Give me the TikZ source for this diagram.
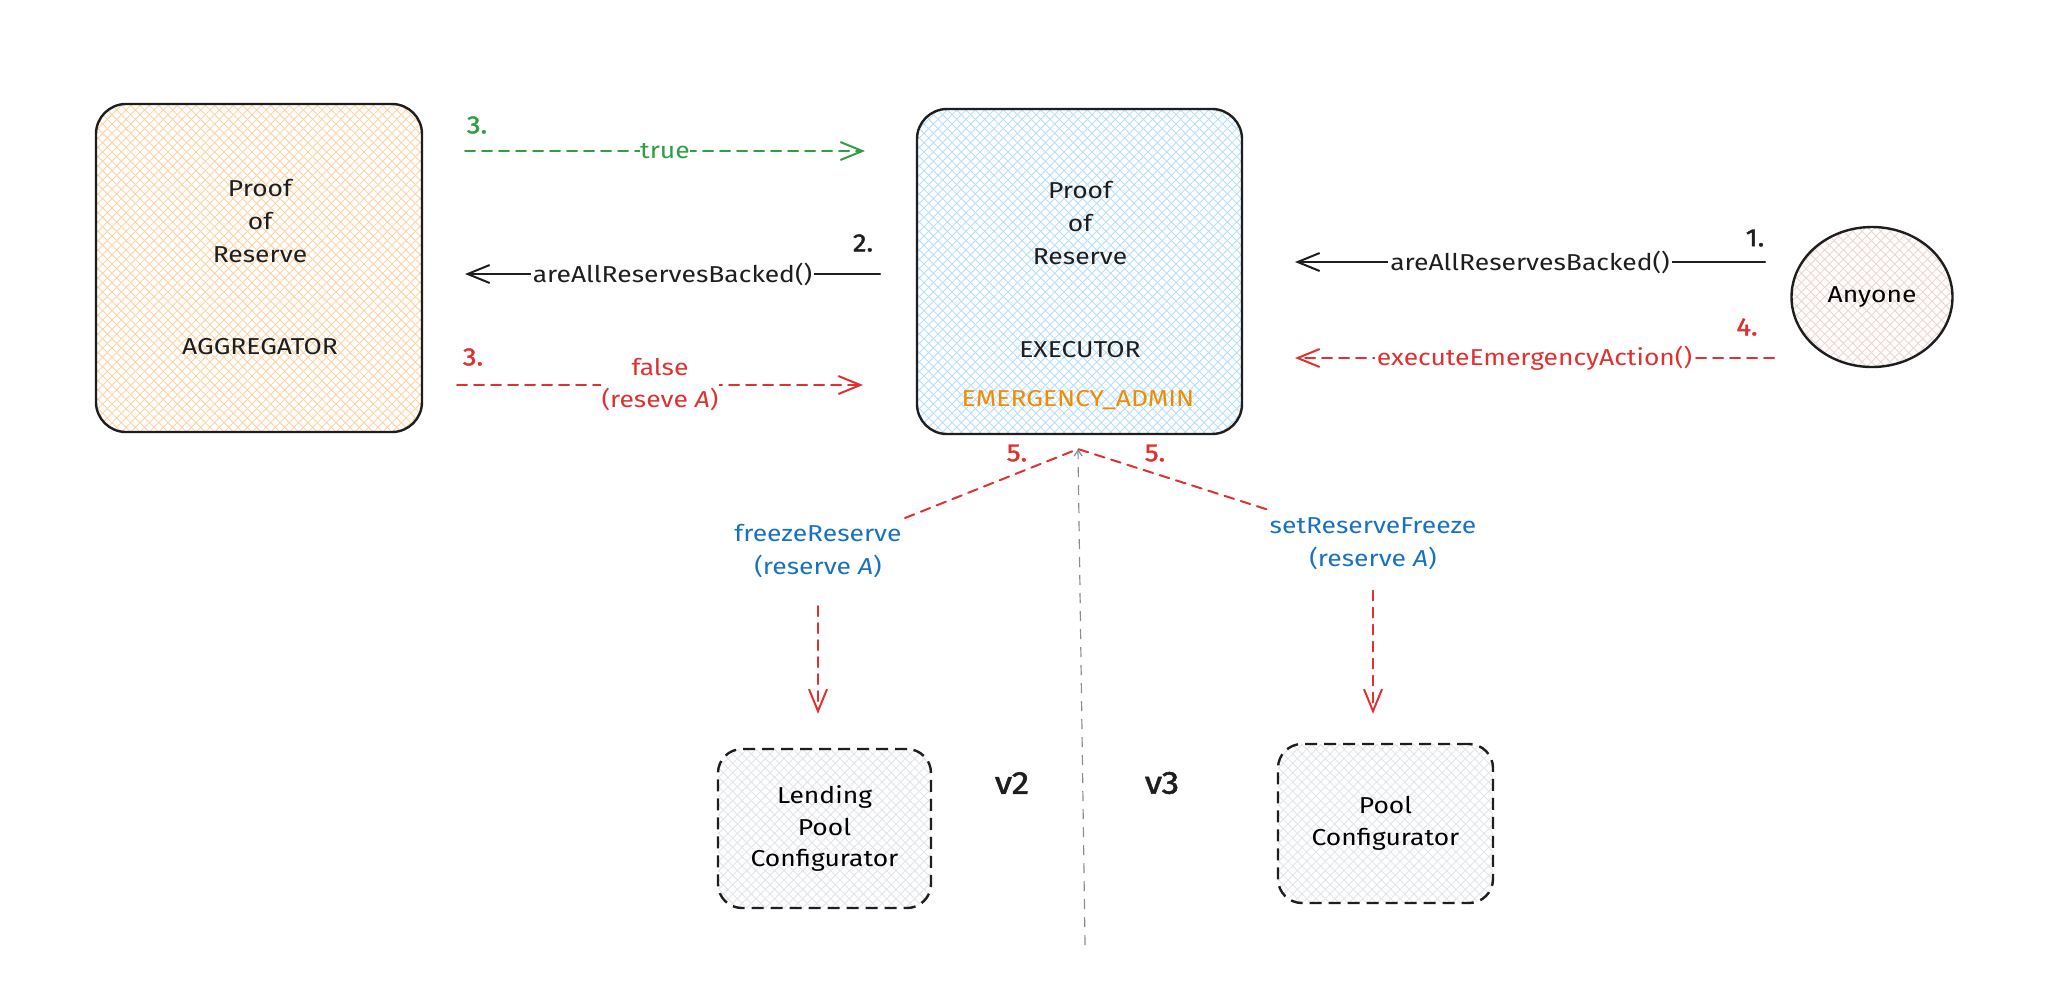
\documentclass[tikz,border=0pt]{standalone}
\usepackage{fontspec}
\setmainfont{Fira Sans}[FakeStretch=1.15]
\newfontfamily\numfont{Fira Sans}[FakeStretch=1.1, FakeBold=1.6]
\usetikzlibrary{arrows.meta,patterns.meta,shapes.geometric}
\definecolor{ink}{HTML}{1E1E1E}
\definecolor{cred}{HTML}{E03131}
\definecolor{cgreen}{HTML}{2F9E44}
\definecolor{cblue}{HTML}{1971C2}
\definecolor{corange}{HTML}{F08C00}
\definecolor{hatchorange}{HTML}{FFD3A3}
\definecolor{hatchblue}{HTML}{B5DEFF}
\definecolor{hatchpink}{HTML}{EBD6D1}
\definecolor{hatchgray}{HTML}{E2E5E9}
\definecolor{cgray}{HTML}{868E96}
\tikzset{
  hatch/.style={
    preaction={pattern color=#1, pattern={Lines[angle=45,distance=3.3pt,line width=0.45pt]}},
    preaction={pattern color=#1, pattern={Lines[angle=-45,distance=3.3pt,line width=0.45pt]}}},
  bigbox/.style={draw=ink, line width=1.2pt, rounded corners=15pt, inner sep=0pt},
  smallbox/.style={draw=ink, line width=1.2pt, rounded corners=12pt, dash pattern=on 6pt off 3.5pt,
    hatch=hatchgray, align=center, font=\fontsize{11.5}{15.75}\selectfont},
  txt/.style={align=center, text=ink, inner sep=0pt, font=\fontsize{11.5}{16.5}\selectfont},
  num/.style={inner sep=0pt, font=\numfont\fontsize{12.5}{14}\selectfont},
  lbl/.style={fill=white, inner sep=1pt, align=center, font=\fontsize{11.5}{16}\selectfont},
  conn/.style={line width=1pt, line cap=round},
  dsh/.style={dash pattern=on 5pt off 3.5pt},
  tip/.style={-{Straight Barb[length=11pt,width=9pt,line width=1pt]}},
}
\begin{document}
\begin{tikzpicture}[x=0.5pt,y=-0.5pt]
\useasboundingbox (0,0) rectangle (2051,992);

% main boxes
\node[bigbox, hatch=hatchorange, minimum width=163pt, minimum height=164pt] (agg) at (259,268) {};
\node[txt] (aggt) at (260,221) {Proof\\of\\Reserve};
\node[txt] (aggn) at (260,347) {AGGREGATOR};

\node[bigbox, hatch=hatchblue, minimum width=162.5pt, minimum height=162.5pt] (exe) at (1079.5,271.5) {};
\node[txt] (exet) at (1080,223) {Proof\\of\\Reserve};
\node[txt] (exen) at (1080,350) {EXECUTOR};
\node[txt, text=corange] (adm) at (1078,400) {EMERGENCY\_ADMIN};

\node[draw=ink, line width=1.2pt, ellipse, hatch=hatchpink, inner sep=0pt,
      minimum width=80.5pt, minimum height=70pt, font=\fontsize{11.5}{16}\selectfont] (any) at (1872,297) {Anyone};

\node[smallbox, minimum width=106.5pt, minimum height=79.5pt] (lpc) at (824.5,828.5) {Lending\\Pool\\Configurator};
\node[smallbox, minimum width=107.5pt, minimum height=79.5pt] (pc) at (1385.5,823.5) {Pool\\Configurator};

% connector end points
\coordinate (a1s) at (1765,262); \coordinate (a1e) at (1295,262);
\coordinate (a4s) at (1774,358); \coordinate (a4e) at (1295,358);
\coordinate (a2s) at (880,274);  \coordinate (a2e) at (465,274);
\coordinate (a3gs) at (465,151); \coordinate (a3ge) at (865,151);
\coordinate (a3rs) at (457,385); \coordinate (a3re) at (863,385);
\coordinate (apex) at (1078,449);
\coordinate (l5) at (905,518); \coordinate (r5) at (1272,511);
\coordinate (gbot) at (1085,945);

% 1.
\draw[conn, ink, tip] (a1s) -- node[lbl, text=ink] (l1) {areAllReservesBacked()} (a1e);
\node[num, text=ink] (n1) at (1755,238) {1.};
% 4.
\draw[conn, cred, dsh, tip] (a4s) -- node[lbl, text=cred] (l4) {executeEmergencyAction()} (a4e);
\node[num, text=cred] (n4) at (1747,327) {4.};
% 2.
\draw[conn, ink, tip] (a2s) -- node[lbl, text=ink] (l2) {areAllReservesBacked()} (a2e);
\node[num, text=ink] (n2) at (863,243) {2.};
% 3. true
\draw[conn, cgreen, dsh, tip] (a3gs) -- node[lbl, text=cgreen, inner sep=0.3pt] (l3g) {true} (a3ge);
\node[num, text=cgreen] (n3g) at (477,125) {3.};
% 3. false
\draw[conn, cred, dsh, tip] (a3rs) -- node[lbl, text=cred, inner sep=0.5pt] (l3r) {false\\(reseve \textit{A})} (a3re);
\node[num, text=cred] (n3r) at (473,357) {3.};

% 5.
\draw[cgray, line width=0.6pt, dash pattern=on 5pt off 4pt, -{Straight Barb[length=3pt,width=4pt,line width=0.6pt]}] (gbot) -- (apex);
\draw[conn, cred, dsh] (l5) -- (apex) -- (r5);
\node[num, text=cred] (n5a) at (1017,453) {5.};
\node[num, text=cred] (n5b) at (1155,453) {5.};

\node[txt, text=cblue] (fr) at (818,551) {freezeReserve\\(reserve \textit{A})};
\node[txt, text=cblue] (sr) at (1373,544) {setReserveFreeze\\(reserve \textit{A})};

\draw[conn, cred, dsh, tip, shorten <=14pt, shorten >=17pt] (fr.south) -- (fr.south |- lpc.north);
\draw[conn, cred, dsh, tip, shorten <=10pt, shorten >=14.5pt] (sr.south) -- (sr.south |- pc.north);

\node[inner sep=0pt, text=ink, font=\numfont\fontsize{16}{18}\selectfont] (v2) at (1012,783) {v2};
\node[inner sep=0pt, text=ink, font=\numfont\fontsize{16}{18}\selectfont] (v3) at (1162,783) {v3};
\end{tikzpicture}
\end{document}
